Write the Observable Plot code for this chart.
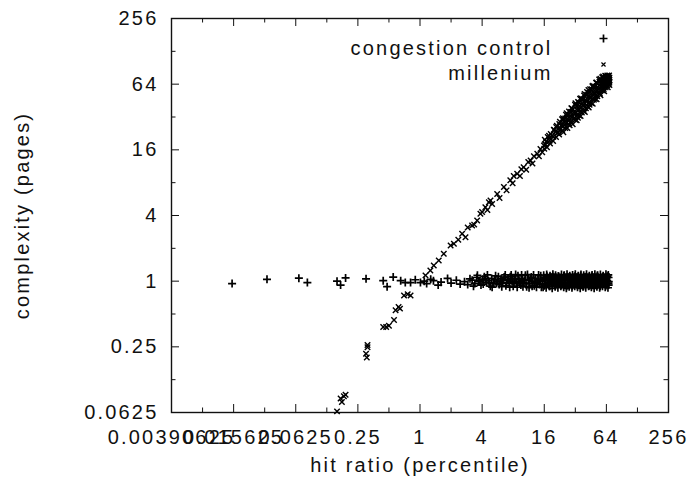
<!DOCTYPE html>
<html><head><meta charset="utf-8">
<script src="https://cdn.jsdelivr.net/npm/d3@7"></script>
<script src="https://cdn.jsdelivr.net/npm/@observablehq/plot@0.6"></script>
<style>
body{margin:0;background:#fff;}
</style></head><body><div id="chart"></div>
<script>
const xTickValues = [0.00390625, 0.015625, 0.0625, 0.25, 1, 4, 16, 64, 256];
const xTickLabels = ["0.00390625", "0.015625", "0.0625", "0.25", "1", "4", "16", "64", "256"];
const xMinorValues = [0.0078125, 0.03125, 0.125, 0.5, 2, 8, 32, 128];
const yTickValues = [0.0625, 0.25, 1, 4, 16, 64, 256];
const yTickLabels = ["0.0625", "0.25", "1", "4", "16", "64", "256"];
const yMinorValues = [0.125, 0.5, 2, 8, 32, 128];
const seriesNames = ["congestion control", "millenium"];
const xTitle = "hit ratio (percentile)";
const yTitle = "complexity (pages)";

// congestion control: [hit ratio, complexity]
const congestionControl = [
  [0.0151,0.95],[0.0329,1.04],[0.067,1.065],[0.081,0.97],[0.157,1.0],[0.17,0.92],[0.19,1.07],
  [0.30,1.05],[0.44,1.01],[0.48,0.89],[0.55,1.09],[0.65,1.01],[0.72,0.97],[0.81,0.97],[0.9,1.03],
  [1.01,0.97],[1.1,1.0],[1.16,0.95],[1.27,1.04],[1.35,1.01],[1.5,0.92],[1.6,0.98],[1.85,1.06],
  [2.0,0.96],[2.25,1.02],[2.45,0.94],[2.7,0.99],[2.9,0.93],[3.05,1.05],
  [3.2,1.02],[3.4,0.95],[3.55,1.08],[3.7,0.99],[3.9,0.92],[4.05,1.04],[4.2,1.1],[4.4,0.97],
  [4.6,1.01],[4.8,0.9],[4.95,1.06],[5.2,0.96],[5.4,1.12],[5.6,1.0],[5.85,0.93],[6.1,1.05],
  [6.3,0.97],[6.55,1.09],[6.8,0.91],[7.0,1.02],
  [3.3,0.9],[3.6,1.13],[3.8,1.01],[4.1,0.94],[4.3,1.05],[4.5,1.14],[4.7,0.97],[5.0,0.88],
  [5.3,1.03],[5.5,0.95],[5.75,1.1],[6.0,0.99],[6.2,0.89],[6.45,1.02],[6.7,1.14],[6.9,0.96],
  [7.3,0.96],[7.5,1.1],[7.8,1.0],[8.0,0.9],[8.3,1.05],[8.6,0.95],[8.9,1.12],[9.2,1.0],[9.5,0.92],
  [9.8,1.06],[10.1,0.97],[10.5,1.13],[10.8,0.89],[11.2,1.03],[11.6,0.95],[12.0,1.09],[12.4,1.0],
  [12.8,0.91],[13.2,1.06],[13.7,0.96],[14.1,1.14],[14.6,1.01],[15.0,0.88],
  [7.15,1.04],[7.4,0.88],[7.65,1.14],[7.9,1.06],[8.15,0.97],[8.45,1.15],[8.75,0.88],[9.05,1.04],
  [9.35,0.96],[9.65,1.14],[9.95,0.89],[10.3,1.02],[10.65,0.95],[11.0,1.15],[11.4,0.87],[11.8,1.06],
  [12.2,0.9],[12.6,1.14],[13.0,0.97],[13.45,0.88],[13.9,1.04],[14.35,0.93],[14.8,1.12],
  [15.8,1.13],[16.9,1.15],[18.2,1.12],[19.4,1.16],[20.6,1.13],[22.0,1.11],[23.5,1.15],[25.0,1.13],
  [26.6,1.16],[28.3,1.12],[30.1,1.14],[32.0,1.16],[34.1,1.12],[36.3,1.15],[38.6,1.13],[41.1,1.16],
  [43.7,1.12],[46.5,1.14],[49.5,1.16],[52.6,1.13],[56.0,1.15],[59.6,1.12],[63.4,1.16],[66.8,1.14],
  [17.0,1.11],[19.3,1.1],[21.9,1.11],[24.8,1.12],[28.1,1.1],[31.8,1.11],[36.0,1.12],[40.8,1.1],
  [46.2,1.11],[52.3,1.12],[59.2,1.1],[65.5,1.11],
  [16.0,1.07],[17.3,1.06],[18.5,1.08],[19.9,1.07],[21.2,1.06],[22.6,1.08],[24.0,1.07],[25.6,1.06],
  [27.2,1.08],[29.0,1.07],[30.9,1.06],[32.9,1.08],[35.0,1.07],[37.2,1.06],[39.5,1.08],[42.0,1.07],
  [44.6,1.06],[47.4,1.08],[50.4,1.07],[53.5,1.06],[56.9,1.08],[60.5,1.07],[64.2,1.06],[67.2,1.08],
  [16.2,1.035],[18.4,1.04],[20.8,1.03],[23.6,1.035],[26.7,1.04],[30.3,1.03],[34.3,1.035],[38.8,1.04],
  [44.0,1.03],[49.8,1.035],[56.4,1.04],[63.8,1.03],
  [15.3,1.0],[16.4,1.02],[17.6,0.98],[18.8,1.01],[20.1,1.03],[21.4,0.99],[22.8,1.01],[24.3,1.03],
  [25.8,0.98],[27.5,1.02],[29.2,1.0],[31.1,0.98],[33.0,1.03],[35.2,1.01],[37.4,0.99],[39.8,1.02],
  [42.4,1.0],[45.1,0.98],[48.0,1.03],[51.0,1.01],[54.3,0.99],[57.8,1.02],[61.5,1.0],[65.2,1.01],[67.5,0.99],
  [17.3,0.965],[19.6,0.97],[22.2,0.96],[25.2,0.965],[28.5,0.97],[32.3,0.96],[36.6,0.965],[41.4,0.97],
  [46.9,0.96],[53.1,0.965],[60.2,0.97],[66.5,0.96],
  [15.4,0.94],[16.6,0.93],[17.9,0.95],[19.2,0.94],[20.6,0.93],[22.1,0.95],[23.7,0.94],[25.3,0.93],
  [27.0,0.95],[28.8,0.94],[30.6,0.93],[32.6,0.95],[34.7,0.94],[36.9,0.93],[39.2,0.95],[41.7,0.94],
  [44.3,0.93],[47.1,0.95],[50.0,0.94],[53.1,0.93],[56.4,0.95],[59.9,0.94],[63.6,0.93],[67.0,0.95],
  [16.0,0.91],[18.1,0.9],[20.5,0.91],[23.3,0.92],[26.4,0.9],[29.9,0.91],[33.9,0.92],[38.4,0.9],
  [43.5,0.91],[49.2,0.92],[55.8,0.9],[63.1,0.91],[67.3,0.92],
  [15.6,0.88],[16.7,0.87],[17.9,0.9],[19.1,0.86],[20.4,0.89],[21.7,0.87],[23.2,0.9],[24.7,0.88],
  [26.2,0.86],[27.9,0.89],[29.7,0.87],[31.6,0.9],[33.6,0.88],[35.7,0.86],[38.0,0.89],[40.4,0.87],
  [43.0,0.9],[45.8,0.88],[48.7,0.86],[51.8,0.89],[55.1,0.87],[58.7,0.9],[62.4,0.88],[66.3,0.87]
];

// millenium: [hit ratio, complexity]
const millenium = [
  [0.157,0.064],[0.17,0.084],[0.175,0.078],[0.19,0.091],[0.183,0.088],
  [0.30,0.216],[0.305,0.2],[0.31,0.248],[0.31,0.26],
  [0.44,0.38],[0.47,0.38],[0.50,0.39],[0.56,0.44],[0.58,0.54],[0.64,0.56],[0.62,0.58],
  [0.70,0.74],[0.76,0.76],[0.81,0.74],
  [1.13,1.13],[1.26,1.25],[1.36,1.39],[1.52,1.55],[1.7,1.78],[1.98,2.12],[2.13,2.2],
  [2.35,2.4],[2.56,2.72],[2.76,2.53],[2.9,3.1],[3.2,3.24],[3.35,3.3],[3.58,3.6],[3.85,4.15],
  [4.0,4.3],[4.3,4.76],[4.5,4.5],[4.65,5.3],
  [4.82,5.5],[5.0,5.1],[5.6,6.3],[5.9,5.8],[6.5,7.3],[6.9,6.8],[7.5,8.4],[7.9,7.9],[8.1,9.2],
  [8.75,9.65],[9.3,9.2],[9.6,10.6],[10.1,11.1],[10.7,10.5],[11.2,12.4],[11.8,12.8],[12.3,12.0],
  [12.7,14.0],[13.7,14.7],[14.2,14.0],[14.7,16.3],[15.3,15.2],[15.9,17.5],
  [16.2,19.8],[17.3,21.0],[18.5,22.4],[19.8,24.5],[21.2,26.6],[22.7,28.9],[24.3,31.2],[26.0,33.5],
  [27.8,36.0],[29.7,38.4],[31.8,41.5],[34.0,44.0],[36.4,47.5],[38.9,50.3],[41.6,54.2],[44.5,57.6],
  [47.6,61.8],[50.9,66.0],[54.5,70.5],[58.3,74.0],[62.4,76.5],[66.5,76.0],
  [16.7,19.0],[17.9,20.5],[19.1,21.6],[20.5,23.5],[21.9,24.9],[23.5,26.9],[25.1,28.6],[26.9,30.8],
  [28.7,32.6],[30.7,35.1],[32.9,37.4],[35.2,40.2],[37.6,42.8],[40.2,45.9],[43.0,49.0],[46.0,52.6],
  [49.2,56.0],[52.7,60.1],[56.4,64.2],[60.3,68.8],[64.4,73.3],[67.8,72.0],
  [16.0,16.4],[17.0,16.9],[18.2,18.3],[19.5,19.3],[20.8,21.0],[22.3,22.1],[23.9,24.0],[25.6,25.3],
  [27.4,27.6],[29.3,29.0],[31.3,31.5],[33.5,33.2],[35.8,36.0],[38.3,38.0],[41.0,41.2],[43.8,43.5],
  [46.9,47.1],[50.1,49.8],[53.6,53.9],[57.4,57.0],[61.4,61.5],[65.6,65.0],[68.3,67.5],
  [30.2,27.5],[33.0,29.8],[36.0,32.6],[39.6,35.5],[43.2,39.0],[47.2,42.3],[51.5,46.5],[56.1,50.6],
  [61.0,55.2],[66.0,59.8],[68.5,63.0],
  [25.5,31.0],[29.0,35.5],[33.3,40.5],[38.1,46.5],[43.6,53.3],[49.9,61.0],[57.0,69.5],[64.0,74.5],
  [16.5,17.9],[18.0,19.4],[19.6,21.1],[21.4,22.8],[23.2,24.9],[25.3,27.0],[27.5,29.4],[29.9,32.0],
  [32.4,34.8],[35.2,37.6],[38.2,40.9],[41.5,44.4],[45.0,48.2],[48.8,52.3],[52.9,56.7],[57.3,61.4],
  [62.0,66.4],[66.8,71.0],
  [17.8,21.6],[20.0,24.3],[22.4,27.6],[24.8,30.6],[27.2,33.6],[30.3,37.8],[34.7,43.4],[36.9,46.3],
  [40.8,51.2],[45.9,57.5],[47.9,60.1],[52.0,64.8],[54.9,67.4],[60.1,72.5],[63.2,75.8],[68.0,76.8],
  [24.5,23.2],[26.8,25.4],[28.2,26.9],[31.9,30.2],[34.9,33.1],[37.0,35.1],[40.5,38.4],[42.2,40.0],
  [45.5,43.1],[48.4,46.0],[52.3,49.6],[55.3,52.5],[59.1,56.1],[63.0,59.9],[67.0,63.7],
  [60,62],[63,66],[65,70],[67,74],[68.5,70],[58,66],[61,72],
  [20.9,25.9],[23.8,30.5],[26.4,34.6],[29.3,38.6],[32.1,42.7],[35.6,47.0],[39.4,52.0],[42.9,56.6],
  [46.8,61.2],[51.4,66.3],[56.0,71.6],[59.5,75.2],[65.3,77.0],
  [21.8,23.2],[24.0,26.3],[26.2,28.3],[28.6,30.9],[31.6,34.5],[34.4,37.2],[37.8,41.1],[41.2,44.9],
  [44.9,48.7],[49.1,53.5],[53.8,58.2],[58.7,63.6],[64.8,69.5],[68.6,73.5],
  [33.9,31.5],[38.8,36.2],[44.0,41.4],[49.6,46.9],[54.8,51.9],[60.3,57.9],[65.0,62.5],[68.2,66.0]
];

const xMin = xTickValues[0], xMax = xTickValues[xTickValues.length - 1];
const yMin = yTickValues[0], yMax = yTickValues[yTickValues.length - 1];
const ink = "#111";

const chart = Plot.plot({
  width: 696,
  height: 492,
  marginLeft: 171,
  marginRight: 28,
  marginTop: 18,
  marginBottom: 80,
  style: {fontFamily: "'Liberation Sans', Arial, sans-serif", fontSize: "20px", letterSpacing: "2.2px", color: ink, background: "#fff"},
  x: {type: "log", base: 2, domain: [xMin, xMax], axis: null},
  y: {type: "log", base: 2, domain: [yMin, yMax], axis: null},
  marks: [
    // inward ticks on all four sides
    Plot.ruleX(xTickValues, {x: d => d, y1: yMin, y2: yMin, insetBottom: 8, stroke: ink}),
    Plot.ruleX(xMinorValues, {x: d => d, y1: yMin, y2: yMin, insetBottom: 4.5, stroke: ink}),
    Plot.ruleX(xTickValues, {x: d => d, y1: yMax, y2: yMax, insetTop: 8, stroke: ink}),
    Plot.ruleX(xMinorValues, {x: d => d, y1: yMax, y2: yMax, insetTop: 4.5, stroke: ink}),
    Plot.ruleY(yTickValues, {y: d => d, x1: xMin, x2: xMin, insetLeft: 8, stroke: ink}),
    Plot.ruleY(yMinorValues, {y: d => d, x1: xMin, x2: xMin, insetLeft: 4.5, stroke: ink}),
    Plot.ruleY(yTickValues, {y: d => d, x1: xMax, x2: xMax, insetRight: 8, stroke: ink}),
    Plot.ruleY(yMinorValues, {y: d => d, x1: xMax, x2: xMax, insetRight: 4.5, stroke: ink}),
    Plot.frame({stroke: ink, strokeWidth: 1.4}),
    // tick labels
    Plot.text(xTickValues, {x: d => d, text: (d, i) => xTickLabels[i], frameAnchor: "bottom", dy: 31, fill: ink}),
    Plot.text(yTickValues, {y: d => d, text: (d, i) => yTickLabels[i], frameAnchor: "left", textAnchor: "end", dx: -13, fill: ink}),
    // axis titles
    Plot.text([xTitle], {text: d => d, frameAnchor: "bottom", textAnchor: "middle", dy: 59, fill: ink}),
    Plot.text([yTitle], {text: d => d, frameAnchor: "left", textAnchor: "middle", dx: -149, rotate: -90, fill: ink}),
    // data
    Plot.dot(congestionControl, {x: d => d[0], y: d => d[1], symbol: "plus", r: 2.7, stroke: "#000", strokeWidth: 1.7}),
    Plot.dot(millenium, {x: d => d[0], y: d => d[1], symbol: "times", r: 2.6, stroke: "#000", strokeWidth: 1.4}),
    // legend
    Plot.text([seriesNames[0]], {text: d => d, frameAnchor: "top-right", textAnchor: "end", dx: -116, dy: 22, fill: ink}),
    Plot.text([seriesNames[1]], {text: d => d, frameAnchor: "top-right", textAnchor: "end", dx: -116, dy: 47, fill: ink}),
    Plot.dot([seriesNames[0]], {frameAnchor: "top-right", dx: -65, dy: 20, symbol: "plus", r: 2.7, stroke: "#000", strokeWidth: 1.7}),
    Plot.dot([seriesNames[1]], {frameAnchor: "top-right", dx: -65, dy: 46, symbol: "times", r: 2.0, stroke: "#000", strokeWidth: 1.2})
  ]
});
document.getElementById("chart").appendChild(chart);
</script>
</body></html>
